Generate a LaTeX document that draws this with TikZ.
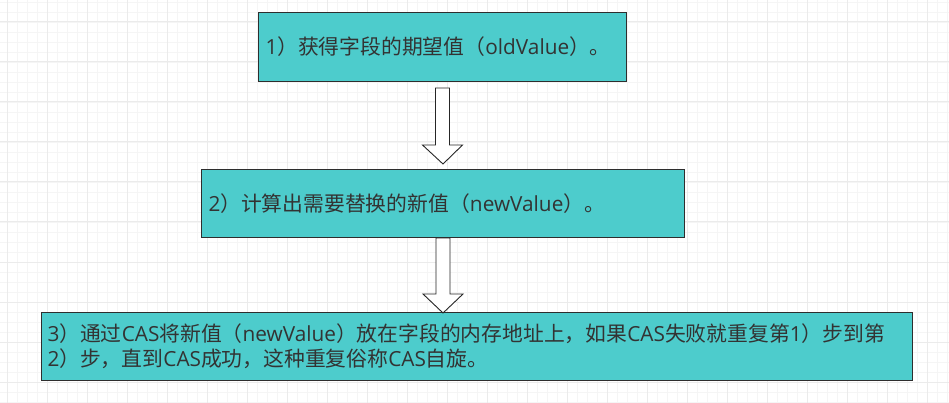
\documentclass[tikz,border=0pt]{standalone}
\usepackage{fontspec}
\setmainfont{Noto Sans CJK SC}
\newfontfamily\latinfont{Open Sans}
\newcommand\lat[1]{{\latinfont #1}}
\usetikzlibrary{calc}
\definecolor{boxfill}{RGB}{77,204,204}
\definecolor{boxtext}{RGB}{51,51,51}
\tikzset{
  stepbox/.style={draw=boxtext!90!black, line width=1pt, fill=boxfill,
    rectangle, align=left, anchor=north west, inner ysep=0pt,
    text=boxtext, font=\fontsize{20.8}{25}\selectfont},
  blockarrow/.style={draw=black!85, line width=0.9pt, fill=white, line join=miter},
  gridminor/.style={draw=black!4, line width=0.8pt},
  gridmajor/.style={draw=black!8, line width=1pt}
}
\begin{document}
\begin{tikzpicture}[x=1pt, y=-1pt]
  \useasboundingbox (0,0) rectangle (949,403);
  % background grid
  \foreach \gx in {7,17,...,947} \draw[gridminor] (\gx,0) -- (\gx,403);
  \foreach \gy in {2,12,...,402} \draw[gridminor] (0,\gy) -- (949,\gy);
  \foreach \gx in {7,47,...,947} \draw[gridmajor] (\gx,0) -- (\gx,403);
  \foreach \gy in {22,62,...,402} \draw[gridmajor] (0,\gy) -- (949,\gy);

  \node (get)  [stepbox, minimum width=368, minimum height=69, text width=354,
               inner xsep=7pt] at (258,12)
               {\lat{1}）获得字段的期望值（\lat{oldValue}）。};
  \node (calc) [stepbox, minimum width=483, minimum height=68, text width=469,
               inner xsep=7pt] at (201,169)
               {\lat{2}）计算出需要替换的新值（\lat{newValue}）。};
  \node (cas)  [stepbox, minimum width=871, minimum height=68, text width=859,
               inner xsep=6pt] at (41,312)
               {\lat{3}）通过\lat{CAS}将新值（\lat{newValue}）放在字段的内存地址上，如果\lat{CAS}失败就重复第\lat{1}）步到第\\
                \lat{2}）步，直到\lat{CAS}成功，这种重复俗称\lat{CAS}自旋。};

  % block arrows between the steps
  \coordinate (tip1) at ($(calc.north)+(0,-5)$);
  \draw[blockarrow] ($(get.south)+(-7,6)$) -- ++(14,0) -- ++(0,57) -- ++(13,0)
    -- (tip1) -- ($(get.south)+(-20,63)$) -- ++(13,0) -- cycle;
  \coordinate (tip2) at ($(calc.south)+(0,75)$);
  \draw[blockarrow] ($(calc.south)+(-7,0)$) -- ++(14,0) -- ++(0,56) -- ++(13,0)
    -- (tip2) -- ($(calc.south)+(-20,56)$) -- ++(13,0) -- cycle;
\end{tikzpicture}
\end{document}
